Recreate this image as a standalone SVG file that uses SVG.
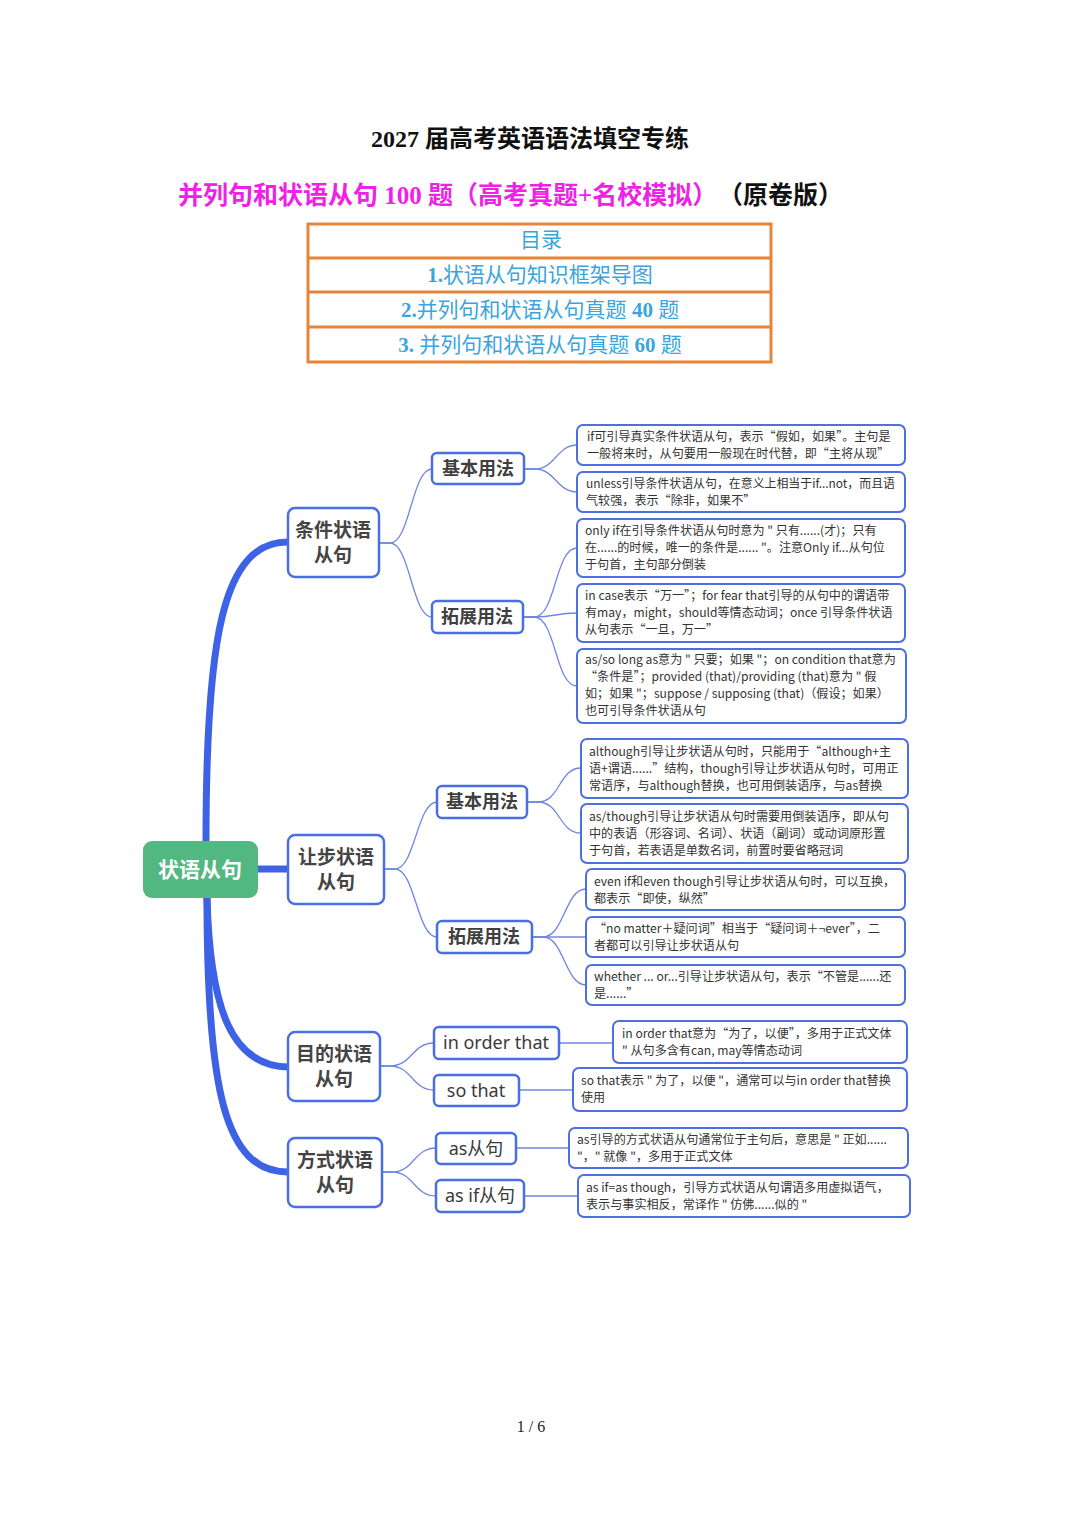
<svg xmlns="http://www.w3.org/2000/svg" width="1080" height="1528" viewBox="0 0 1080 1528">
<style>
.title{font-family:"Liberation Serif","Noto Sans CJK SC",serif;font-weight:bold;font-size:24px;fill:#111;text-anchor:middle}
.sub{font-family:"Liberation Serif","Noto Sans CJK SC",serif;font-weight:bold;font-size:25px}
.toc{font-family:"Liberation Serif","Noto Sans CJK SC",serif;font-size:21px;fill:#3AA5DC;text-anchor:middle}
.tocb{fill:none;stroke:#E8843A;stroke-width:3}
.thick{fill:none;stroke:#3D62E6;stroke-width:7;stroke-linecap:round}
.thin{fill:none;stroke:#6F87E3;stroke-width:1.3}
.box{fill:#fff;stroke:#4A6FE3;stroke-width:2.5}
.leaf{fill:#fff;stroke:#4D6FE0;stroke-width:2}
.main{font-family:"Noto Sans CJK SC",sans-serif;font-weight:bold;font-size:19px;fill:#444;text-anchor:middle}
.subn{font-family:"Noto Sans CJK SC",sans-serif;font-weight:bold;font-size:18px;fill:#3f3f3f;text-anchor:middle}
.en{font-family:"Noto Sans","Noto Sans CJK SC",sans-serif;font-size:18px;fill:#3a3a3a;text-anchor:middle}
.lt{font-family:"Noto Sans CJK SC",sans-serif;font-size:12.1px;fill:#333}
.page{font-family:"Liberation Serif",serif;font-size:16px;fill:#222;text-anchor:middle}
</style>
<rect width="1080" height="1528" fill="#fff"/>
<g id="header">
<text class="title" x="530" y="147">2027 届高考英语语法填空专练</text>
<text class="sub" x="178" y="204" fill="#EE22E6">并列句和状语从句 100 题（高考真题+名校模拟）</text>
<text class="sub" x="718" y="204" fill="#111" font-size="22">（原卷版）</text>
</g>
<g id="toc">
<rect class="tocb" x="308" y="224" width="463" height="138"/>
<line class="tocb" x1="308" y1="258" x2="771" y2="258"/>
<line class="tocb" x1="308" y1="292" x2="771" y2="292"/>
<line class="tocb" x1="308" y1="327" x2="771" y2="327"/>
<text class="toc" x="541" y="247">目录</text>
<text class="toc" x="540" y="282"><tspan font-weight="bold">1.</tspan>状语从句知识框架导图</text>
<text class="toc" x="540" y="317"><tspan font-weight="bold">2.</tspan>并列句和状语从句真题 <tspan font-weight="bold">40</tspan> 题</text>
<text class="toc" x="540" y="352"><tspan font-weight="bold">3.</tspan>  并列句和状语从句真题 <tspan font-weight="bold">60</tspan> 题</text>
</g>
<g id="connectors">
<path class="thick" d="M206,842 C206,640 222,542 288,542"/>
<path class="thick" d="M258,869 H288"/>
<path class="thick" d="M207,898 C210,1010 232,1066 288,1067"/>
<path class="thick" d="M207,898 C207,1090 225,1172 288,1172"/>
<path class="thin" d="M379,543 H390 C410,543 412,469 432,469"/>
<path class="thin" d="M379,543 H390 C410,543 412,617 432,617"/>
<path class="thin" d="M524,469 H535 C555,469 557,445 577,445"/>
<path class="thin" d="M524,469 H535 C555,469 557,492 577,492"/>
<path class="thin" d="M523,617 H534 C556,617 555,548 577,548"/>
<path class="thin" d="M523,617 H534 C556,617 555,613 577,613"/>
<path class="thin" d="M523,617 H534 C556,617 555,686 577,686"/>
<path class="thin" d="M384,869 H395 C415,869 417,802 437,802"/>
<path class="thin" d="M384,869 H395 C415,869 417,937 437,937"/>
<path class="thin" d="M527,802 H538 C560,802 559,768 581,768"/>
<path class="thin" d="M527,802 H538 C560,802 559,833 581,833"/>
<path class="thin" d="M532,937 H543 C564,937 565,889 586,889"/>
<path class="thin" d="M532,937 H543 C564,937 565,937 586,937"/>
<path class="thin" d="M532,937 H543 C564,937 565,985 586,985"/>
<path class="thin" d="M380,1066 H390 C412,1066 412,1043 434,1043"/>
<path class="thin" d="M380,1066 H390 C412,1066 412,1090 434,1090"/>
<path class="thin" d="M559,1043 H613"/>
<path class="thin" d="M519,1090 H573"/>
<path class="thin" d="M382,1172 H392 C414,1172 414,1148 436,1148"/>
<path class="thin" d="M382,1172 H392 C414,1172 414,1196 436,1196"/>
<path class="thin" d="M516,1148 H569"/>
<path class="thin" d="M524,1196 H578"/>
</g>
<g id="root">
<rect x="143" y="841" width="115" height="57" rx="9" fill="#52B882"/>
<text x="200" y="877" font-family="Noto Sans CJK SC,sans-serif" font-weight="bold" font-size="21" fill="#fff" text-anchor="middle">状语从句</text>
</g>
<g id="n-tiaojian">
<rect class="box" x="288" y="508" width="91" height="69" rx="7"/>
<text class="main" x="333" y="537">条件状语</text>
<text class="main" x="333" y="562">从句</text>
</g>
<g id="n-rangbu">
<rect class="box" x="288" y="835" width="96" height="69" rx="7"/>
<text class="main" x="336" y="864">让步状语</text>
<text class="main" x="336" y="889">从句</text>
</g>
<g id="n-mudi">
<rect class="box" x="288" y="1032" width="92" height="69" rx="7"/>
<text class="main" x="334" y="1061">目的状语</text>
<text class="main" x="334" y="1086">从句</text>
</g>
<g id="n-fangshi">
<rect class="box" x="288" y="1138" width="94" height="69" rx="7"/>
<text class="main" x="335" y="1167">方式状语</text>
<text class="main" x="335" y="1192">从句</text>
</g>
<g id="n-tj-jiben">
<rect class="box" x="432" y="453" width="92" height="31" rx="5"/>
<text class="subn" x="478" y="475">基本用法</text>
</g>
<g id="n-tj-tuozhan">
<rect class="box" x="432" y="601" width="91" height="32" rx="5"/>
<text class="subn" x="477" y="623">拓展用法</text>
</g>
<g id="n-rb-jiben">
<rect class="box" x="437" y="786" width="90" height="32" rx="5"/>
<text class="subn" x="482" y="808">基本用法</text>
</g>
<g id="n-rb-tuozhan">
<rect class="box" x="437" y="921" width="95" height="32" rx="5"/>
<text class="subn" x="484" y="943">拓展用法</text>
</g>
<g id="n-inorder">
<rect class="box" x="434" y="1027" width="125" height="32" rx="5"/>
<text class="en" x="496" y="1049">in order that</text>
</g>
<g id="n-sothat">
<rect class="box" x="434" y="1075" width="85" height="31" rx="5"/>
<text class="en" x="476" y="1097">so that</text>
</g>
<g id="n-as">
<rect class="box" x="436" y="1133" width="80" height="31" rx="5"/>
<text class="en" x="476" y="1155">as从句</text>
</g>
<g id="n-asif">
<rect class="box" x="436" y="1180" width="88" height="32" rx="5"/>
<text class="en" x="480" y="1202">as if从句</text>
</g>
<g id="leaf1">
<rect class="leaf" x="577" y="425" width="328" height="40" rx="6"/>
<text class="lt" x="587" y="441">if可引导真实条件状语从句，表示“假如，如果”。主句是</text>
<text class="lt" x="587" y="458">一般将来时，从句要用一般现在时代替，即“主将从现”</text>
</g>
<g id="leaf2">
<rect class="leaf" x="577" y="472" width="328" height="40" rx="6"/>
<text class="lt" x="586" y="488" textLength="309" lengthAdjust="spacingAndGlyphs">unless引导条件状语从句，在意义上相当于if...not，而且语</text>
<text class="lt" x="586" y="505">气较强，表示“除非，如果不”</text>
</g>
<g id="leaf3">
<rect class="leaf" x="577" y="519" width="328" height="58" rx="6"/>
<text class="lt" x="585" y="535">only if在引导条件状语从句时意为 " 只有......(才)；只有</text>
<text class="lt" x="585" y="552">在......的时候，唯一的条件是...... "。注意Only if...从句位</text>
<text class="lt" x="585" y="569">于句首，主句部分倒装</text>
</g>
<g id="leaf4">
<rect class="leaf" x="577" y="584" width="328" height="58" rx="6"/>
<text class="lt" x="585" y="600">in case表示“万一”；for fear that引导的从句中的谓语带</text>
<text class="lt" x="585" y="617">有may，might，should等情态动词；once 引导条件状语</text>
<text class="lt" x="585" y="634">从句表示“一旦，万一”</text>
</g>
<g id="leaf5">
<rect class="leaf" x="577" y="649" width="329" height="74" rx="6"/>
<text class="lt" x="585" y="664">as/so long as意为 " 只要；如果 "；on condition that意为</text>
<text class="lt" x="585" y="681"> “条件是”；provided (that)/providing (that)意为 " 假</text>
<text class="lt" x="585" y="698">如；如果 "；suppose / supposing (that)（假设；如果）</text>
<text class="lt" x="585" y="715">也可引导条件状语从句</text>
</g>
<g id="leaf6">
<rect class="leaf" x="581" y="739" width="327" height="59" rx="6"/>
<text class="lt" x="589" y="756">although引导让步状语从句时，只能用于“although+主</text>
<text class="lt" x="589" y="773">语+谓语......”结构，though引导让步状语从句时，可用正</text>
<text class="lt" x="589" y="790">常语序，与although替换，也可用倒装语序，与as替换</text>
</g>
<g id="leaf7">
<rect class="leaf" x="581" y="804" width="327" height="59" rx="6"/>
<text class="lt" x="589" y="821">as/though引导让步状语从句时需要用倒装语序，即从句</text>
<text class="lt" x="589" y="838">中的表语（形容词、名词）、状语（副词）或动词原形置</text>
<text class="lt" x="589" y="855">于句首，若表语是单数名词，前置时要省略冠词</text>
</g>
<g id="leaf8">
<rect class="leaf" x="586" y="869" width="319" height="41" rx="6"/>
<text class="lt" x="594" y="886">even if和even though引导让步状语从句时，可以互换，</text>
<text class="lt" x="594" y="903">都表示“即使，纵然”</text>
</g>
<g id="leaf9">
<rect class="leaf" x="586" y="917" width="319" height="40" rx="6"/>
<text class="lt" x="594" y="933"> “no matter＋疑问词”相当于“疑问词＋¬ever”，二</text>
<text class="lt" x="594" y="950">者都可以引导让步状语从句</text>
</g>
<g id="leaf10">
<rect class="leaf" x="586" y="965" width="319" height="40" rx="6"/>
<text class="lt" x="594" y="981">whether ... or...引导让步状语从句，表示“不管是......还</text>
<text class="lt" x="594" y="998">是......”</text>
</g>
<g id="leaf11">
<rect class="leaf" x="613" y="1021" width="294" height="42" rx="6"/>
<text class="lt" x="622" y="1038">in order that意为“为了，以便”，多用于正式文体</text>
<text class="lt" x="622" y="1055">" 从句多含有can, may等情态动词</text>
</g>
<g id="leaf12">
<rect class="leaf" x="573" y="1068" width="334" height="43" rx="6"/>
<text class="lt" x="581" y="1085">so that表示 " 为了，以便 "，通常可以与in order that替换</text>
<text class="lt" x="581" y="1102">使用</text>
</g>
<g id="leaf13">
<rect class="leaf" x="569" y="1128" width="339" height="40" rx="6"/>
<text class="lt" x="577" y="1144">as引导的方式状语从句通常位于主句后，意思是 " 正如......</text>
<text class="lt" x="577" y="1161"> "，" 就像 "，多用于正式文体</text>
</g>
<g id="leaf14">
<rect class="leaf" x="578" y="1175" width="332" height="42" rx="6"/>
<text class="lt" x="586" y="1192">as if=as though，引导方式状语从句谓语多用虚拟语气，</text>
<text class="lt" x="586" y="1209">表示与事实相反，常译作 " 仿佛......似的 "</text>
</g>
<text class="page" x="531" y="1432">1 / 6</text>
</svg>
